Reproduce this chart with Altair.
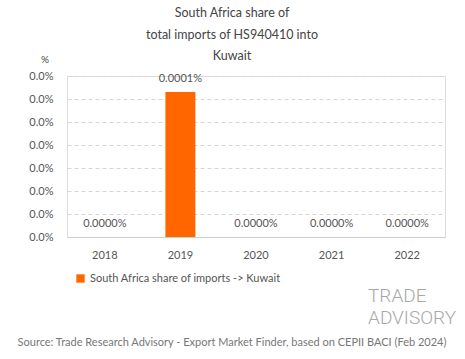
import altair as alt
import pandas as pd

years = ["2018", "2019", "2020", "2021", "2022"]
shares = [0.0, 0.000063, 0.0, 0.0, 0.0]  # percent
series_name = "South Africa share of imports -> Kuwait"
y_ticks = [0, 0.00001, 0.00002, 0.00003, 0.00004, 0.00005, 0.00006, 0.00007]
title_lines = ["South Africa share of", "total imports of HS940410 into", "Kuwait"]
source_text = "Source: Trade Research Advisory - Export Market Finder, based on CEPII BACI (Feb 2024)"

df = pd.DataFrame({"year": years, "share": shares, "series": [series_name] * len(years)})

FONT = "Lato"
ORANGE = "#FF6600"

x_axis = alt.Axis(labelAngle=0, labelPadding=12, labelFontSize=11, labelColor="#555",
                  labelFont=FONT, ticks=False, domainColor="#cccccc", grid=False)
y_axis = alt.Axis(values=y_ticks, labelExpr="format(datum.value, '.1f') + '%'",
                  labelOverlap=False, labelPadding=14, labelFontSize=11, labelColor="#555",
                  labelFont=FONT, ticks=False, domain=False, gridDash=[4, 3],
                  gridColor="#d6d6d6", tickCount=8)
x_enc = alt.X("year:N", title=None, sort=years,
              scale=alt.Scale(paddingInner=0.6, paddingOuter=0.3), axis=x_axis)
y_enc = alt.Y("share:Q", title=None, scale=alt.Scale(domain=[0, 0.00007], nice=False), axis=y_axis)

base = alt.Chart(df)

bars = base.mark_bar(size=30, color=ORANGE).encode(
    x=x_enc,
    y=y_enc,
    color=alt.Color("series:N", scale=alt.Scale(domain=[series_name], range=[ORANGE]),
                    legend=alt.Legend(title=None, orient="none", legendX=8, legendY=197,
                                      symbolType="square", symbolSize=70, labelFontSize=11,
                                      labelLimit=400, labelColor="#555", labelFont=FONT,
                                      symbolStrokeWidth=0)),
)

labels = base.mark_text(dy=-8, baseline="bottom", fontSize=11, color="#555", font=FONT).encode(
    x=x_enc,
    y=y_enc,
    text=alt.Text("label:N"),
).transform_calculate(label="format(datum.share, '.4f') + '%'")

def txt(s, x, y, size=11, color="#555", align="center", font=FONT, weight="normal"):
    return alt.Chart(alt.Data(values=[{}])).mark_text(
        fontSize=size, color=color, align=align, baseline="middle", font=font, fontWeight=weight
    ).encode(x=alt.value(x), y=alt.value(y), text=alt.value(s))

layers = [bars, labels]
for i, line in enumerate(title_lines):
    layers.append(txt(line, 165, -63 + i * 21.5, size=12.5, color="#444"))
layers.append(txt("%", -22, -16, size=10, color="#444"))
layers.append(txt(source_text, 165, 267, size=11, color="#777"))
layers.append(txt("TRADE", 301, 220, size=19, color="#a8a8a8", align="left", font="Roboto", weight=300))
layers.append(txt("ADVISORY", 301, 242, size=19, color="#a8a8a8", align="left", font="Roboto", weight=300))

chart = alt.layer(*layers).properties(
    width=378, height=161,
    autosize=alt.AutoSizeParams(type="none"),
    padding={"left": 67, "top": 76, "right": 20, "bottom": 122},
).configure_view(stroke=None).configure(background="white")

chart.save("out.html", embed_options={"renderer": "svg", "actions": False})
